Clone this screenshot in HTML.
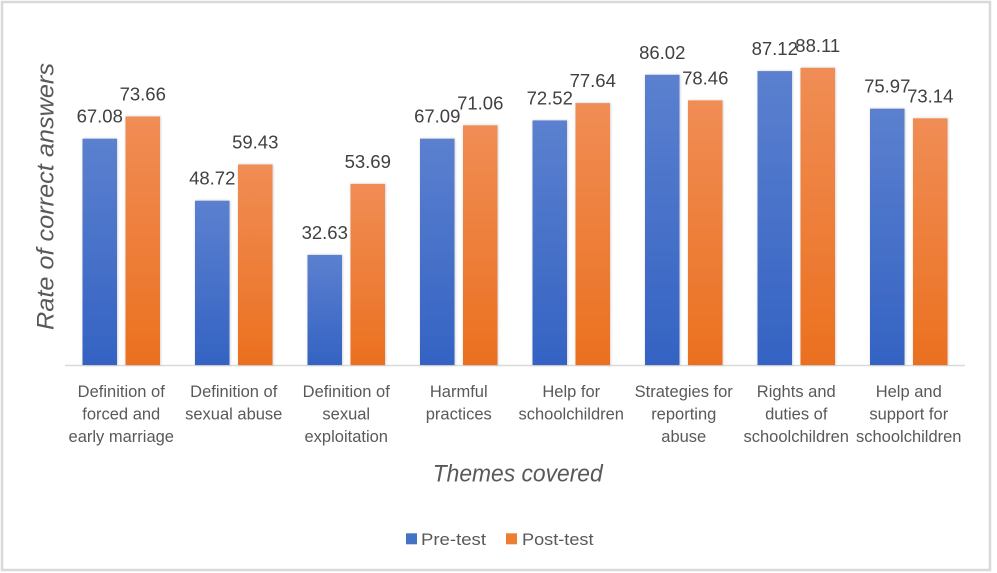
<!DOCTYPE html>
<html><head><meta charset="utf-8"><style>
html,body{margin:0;padding:0;background:#fff;}
svg{display:block;}
text{font-family:"Liberation Sans",sans-serif;}
</style></head><body>
<svg width="997" height="573" viewBox="0 0 997 573" xmlns="http://www.w3.org/2000/svg">
<defs>
<linearGradient id="gb" x1="0" y1="0" x2="0" y2="1"><stop offset="0" stop-color="#5b80cf"/><stop offset="1" stop-color="#3463c3"/></linearGradient>
<linearGradient id="go" x1="0" y1="0" x2="0" y2="1"><stop offset="0" stop-color="#f08d55"/><stop offset="1" stop-color="#eb701f"/></linearGradient>
<filter id="sh" x="-20%" y="-5%" width="140%" height="110%"><feDropShadow dx="0.5" dy="0" stdDeviation="1.3" flood-color="#000" flood-opacity="0.22"/></filter>
</defs>
<rect x="0" y="0" width="997" height="573" fill="#fff"/>
<rect x="2" y="2" width="988" height="568" fill="#fff" stroke="#d9d9d9" stroke-width="2.5"/>
<line x1="65" y1="365.5" x2="965" y2="365.5" stroke="#d9d9d9" stroke-width="1.5"/>
<g filter="url(#sh)">
<rect x="82.5" y="138.7" width="34.5" height="226.3" fill="url(#gb)"/>
<rect x="125.5" y="116.5" width="34.5" height="248.5" fill="url(#go)"/>
<rect x="195" y="200.7" width="34.5" height="164.3" fill="url(#gb)"/>
<rect x="238" y="164.5" width="34.5" height="200.5" fill="url(#go)"/>
<rect x="307.5" y="254.9" width="34.5" height="110.1" fill="url(#gb)"/>
<rect x="350.5" y="183.9" width="34.5" height="181.1" fill="url(#go)"/>
<rect x="420" y="138.7" width="34.5" height="226.3" fill="url(#gb)"/>
<rect x="463" y="125.3" width="34.5" height="239.7" fill="url(#go)"/>
<rect x="532.5" y="120.4" width="34.5" height="244.6" fill="url(#gb)"/>
<rect x="575.5" y="103.1" width="34.5" height="261.9" fill="url(#go)"/>
<rect x="645" y="74.8" width="34.5" height="290.2" fill="url(#gb)"/>
<rect x="688" y="100.4" width="34.5" height="264.6" fill="url(#go)"/>
<rect x="757.5" y="71.1" width="34.5" height="293.9" fill="url(#gb)"/>
<rect x="800.5" y="67.8" width="34.5" height="297.2" fill="url(#go)"/>
<rect x="870" y="108.7" width="34.5" height="256.3" fill="url(#gb)"/>
<rect x="913" y="118.3" width="34.5" height="246.7" fill="url(#go)"/>
</g>
<g font-size="18.5" fill="#404040" text-anchor="middle">
<text x="99.75" y="122.7">67.08</text>
<text x="142.75" y="100.5">73.66</text>
<text x="212.25" y="184.7">48.72</text>
<text x="255.25" y="148.5">59.43</text>
<text x="324.75" y="238.9">32.63</text>
<text x="367.75" y="167.9">53.69</text>
<text x="437.25" y="122.7">67.09</text>
<text x="480.25" y="109.3">71.06</text>
<text x="549.75" y="104.4">72.52</text>
<text x="592.75" y="87.1">77.64</text>
<text x="662.25" y="58.8">86.02</text>
<text x="705.25" y="84.4">78.46</text>
<text x="774.75" y="55.1">87.12</text>
<text x="817.75" y="51.8">88.11</text>
<text x="887.25" y="92.7">75.97</text>
<text x="930.25" y="102.3">73.14</text>
</g>
<g font-size="16.5" fill="#595959" text-anchor="middle">
<text x="121.25" y="397">Definition of</text>
<text x="121.25" y="419.5">forced and</text>
<text x="121.25" y="442">early marriage</text>
<text x="233.75" y="397">Definition of</text>
<text x="233.75" y="419.5">sexual abuse</text>
<text x="346.25" y="397">Definition of</text>
<text x="346.25" y="419.5">sexual</text>
<text x="346.25" y="442">exploitation</text>
<text x="458.75" y="397">Harmful</text>
<text x="458.75" y="419.5">practices</text>
<text x="571.25" y="397">Help for</text>
<text x="571.25" y="419.5">schoolchildren</text>
<text x="683.75" y="397">Strategies for</text>
<text x="683.75" y="419.5">reporting</text>
<text x="683.75" y="442">abuse</text>
<text x="796.25" y="397">Rights and</text>
<text x="796.25" y="419.5">duties of</text>
<text x="796.25" y="442">schoolchildren</text>
<text x="908.75" y="397">Help and</text>
<text x="908.75" y="419.5">support for</text>
<text x="908.75" y="442">schoolchildren</text>
</g>
<text x="432.7" y="481.5" font-size="24" font-style="italic" fill="#595959" textLength="170" lengthAdjust="spacingAndGlyphs">Themes covered</text>
<text transform="translate(53.5,330) rotate(-90)" font-size="24" font-style="italic" fill="#595959" textLength="267" lengthAdjust="spacingAndGlyphs">Rate of correct answers</text>
<rect x="406" y="533.3" width="11" height="11" fill="#4472c4"/>
<text x="421" y="545" font-size="17" fill="#595959" textLength="65" lengthAdjust="spacingAndGlyphs">Pre-test</text>
<rect x="506" y="533.3" width="11" height="11" fill="#ed7d31"/>
<text x="522" y="545" font-size="17" fill="#595959" textLength="71.5" lengthAdjust="spacingAndGlyphs">Post-test</text>
</svg>
</body></html>
